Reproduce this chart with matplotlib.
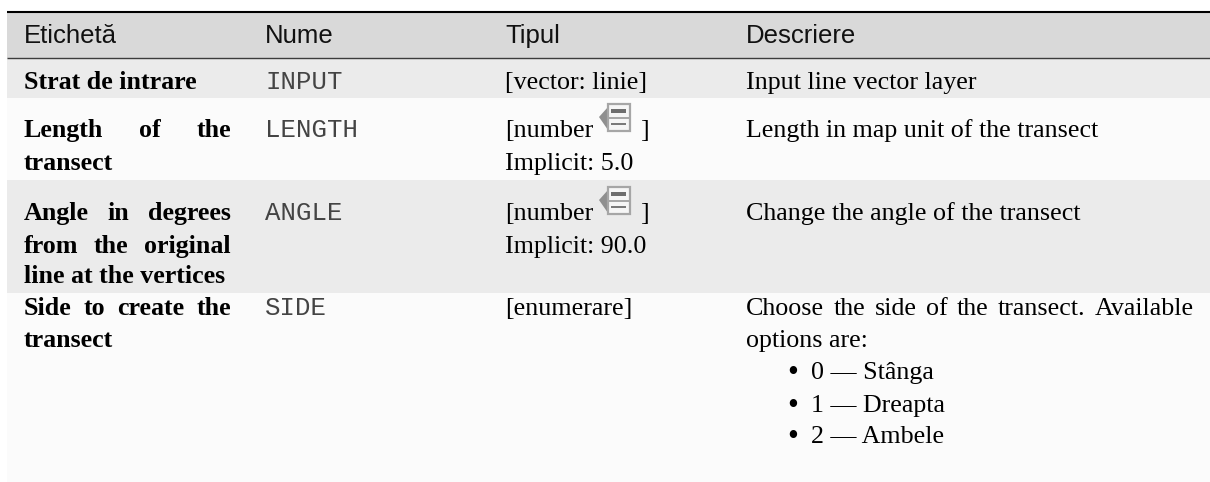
import matplotlib
matplotlib.use("Agg")
import matplotlib.pyplot as plt
from matplotlib.patches import Polygon, Rectangle

SERIF = "Liberation Serif"
SANS = "Liberation Sans"
MONO = "Liberation Mono"

headers = ["Etichetă", "Nume", "Tipul", "Descriere"]
labels = [
    [("Strat de intrare", False, 89)],
    [("Length of the", True, 137), ("transect", False, 170)],
    [("Angle in degrees", True, 220), ("from the original", True, 253), ("line at the vertices", False, 283)],
    [("Side to create the", True, 315), ("transect", False, 347)],
]
names = [("INPUT", 89), ("LENGTH", 137), ("ANGLE", 220), ("SIDE", 315)]
types = [("[vector: linie]", 89), ("[number", 137), ("Implicit: 5.0", 170),
         ("[number", 220), ("Implicit: 90.0", 253), ("[enumerare]", 315)]
descr = [("Input line vector layer", False, 89), ("Length in map unit of the transect", False, 137),
         ("Change the angle of the transect", False, 220),
         ("Choose the side of the transect. Available", True, 315), ("options are:", False, 347)]
options = [("0 — Stânga", 379), ("1 — Dreapta", 412), ("2 — Ambele", 443)]
icon_rows = [137, 220]

# layout, in image pixels
col_x = [24, 265, 505, 746]
col_end = {0: 231, 3: 1194}
row_edges = [58, 98, 180, 293, 482]
row_colors = ["#ebebeb", "#fbfbfb", "#ebebeb", "#fbfbfb"]
PX = 0.72  # points per pixel at dpi 100
BODY = 26 * PX
HEAD = 25.7 * PX
CODE = 25.8 * PX


def justified(ax, fig, text, x0, x1, y, **kw):
    words = text.split()
    r = fig.canvas.get_renderer()
    items = [ax.text(x0, y, w, va="baseline", **kw) for w in words]
    widths = [t.get_window_extent(r).width for t in items]
    gap = (x1 - x0 - sum(widths)) / (len(words) - 1)
    x = x0
    for t, w in zip(items, widths):
        t.set_x(x)
        x += w + gap


def draw_icon(ax, y):
    # arrow plus two stacked form boxes, beside [number
    top = y - 33
    ax.add_patch(Polygon([(599, top + 13), (608, top + 3), (608, top + 26)], closed=True, fc="#8f8f8f", ec="none", zorder=3))
    ax.add_patch(Rectangle((608, top), 22, 27, fc="#f6f6f6", ec="#a6a6a6", lw=1.6, zorder=3))
    ax.plot([608, 630], [top + 14, top + 14], color="#a6a6a6", lw=1.4, zorder=4)
    ax.add_patch(Rectangle((611, top + 5), 15, 3.5, fc="#6e6e6e", ec="none", zorder=4))
    ax.add_patch(Rectangle((611, top + 19), 15, 2, fc="#7a7a7a", ec="none", zorder=4))


fig = plt.figure(figsize=(12.1, 4.82), dpi=100)
ax = fig.add_axes([0, 0, 1, 1])
ax.set_xlim(0, 1210)
ax.set_ylim(482, 0)
ax.axis("off")

ax.add_patch(Rectangle((7, 12), 1203, 46, fc="#d9d9d9", ec="none"))
for i, c in enumerate(row_colors):
    ax.add_patch(Rectangle((7, row_edges[i]), 1203, row_edges[i + 1] - row_edges[i], fc=c, ec="none"))
ax.plot([7, 1210], [12, 12], color="black", lw=1.5, solid_capstyle="butt")
ax.plot([7, 1210], [58, 58], color="#3c3c3c", lw=1.0, solid_capstyle="butt")

for x, h in zip(col_x, headers):
    ax.text(x, 43, h, fontsize=HEAD, family=SANS, va="baseline", color="#111111")

for row in labels:
    for text, just, y in row:
        if just:
            justified(ax, fig, text, col_x[0], col_end[0], y, fontsize=BODY, family=SERIF, weight="bold", color="black")
        else:
            ax.text(col_x[0], y, text, fontsize=BODY, family=SERIF, weight="bold", va="baseline", color="black")

for text, y in names:
    ax.text(col_x[1], y, text, fontsize=CODE, family=MONO, va="baseline", color="#444444")

for text, y in types:
    ax.text(col_x[2], y, text, fontsize=BODY, family=SERIF, va="baseline", color="black")
for y in icon_rows:
    draw_icon(ax, y)
    ax.text(640, y, "]", fontsize=BODY, family=SERIF, va="baseline", color="black")

for text, just, y in descr:
    if just:
        justified(ax, fig, text, col_x[3], col_end[3], y, fontsize=BODY, family=SERIF, color="black")
    else:
        ax.text(col_x[3], y, text, fontsize=BODY, family=SERIF, va="baseline", color="black")

for text, y in options:
    ax.text(793, y + 2, "•", fontsize=BODY * 1.2, family=SERIF, va="baseline", ha="center", color="black")
    ax.text(811, y, text, fontsize=BODY, family=SERIF, va="baseline", color="black")

fig.savefig("out.png", dpi=100)
